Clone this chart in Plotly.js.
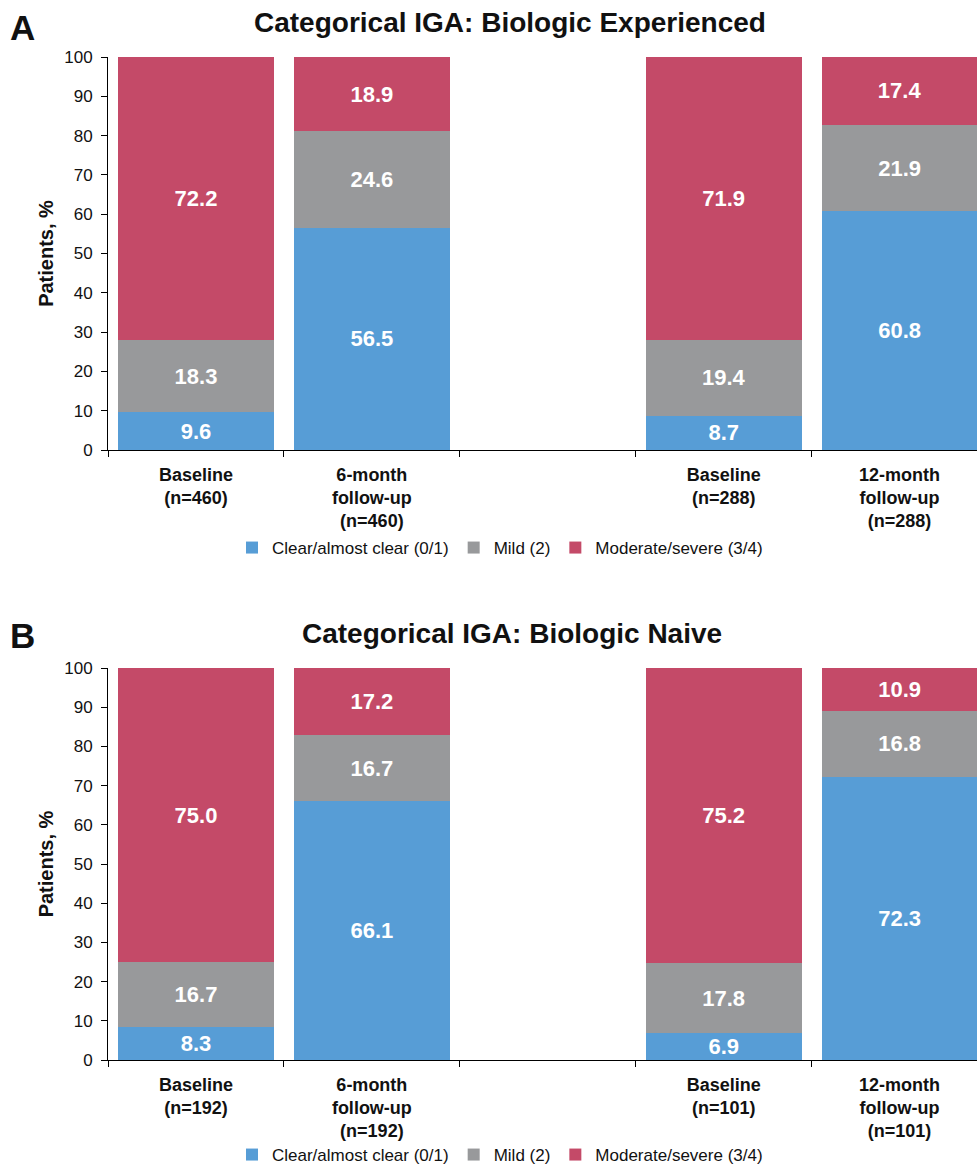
<!DOCTYPE html>
<html><head><meta charset="utf-8">
<script src="https://cdn.plot.ly/plotly-3.0.1.min.js"></script>
<style>html,body{margin:0;padding:0;overflow:hidden;background:#fff}</style>
</head><body><div id="chart" style="width:977px;height:1165px"></div>
<script>
// Panel A: Biologic Experienced
const catsA = ["Baseline<br>(n=460)", "6-month<br>follow-up<br>(n=460)", " ", "Baseline<br>(n=288)", "12-month<br>follow-up<br>(n=288)"];
const clearA = [9.6, 56.5, null, 8.7, 60.8];
const mildA = [18.3, 24.6, null, 19.4, 21.9];
const modA = [72.2, 18.9, null, 71.9, 17.4];
// Panel B: Biologic Naive
const catsB = ["Baseline<br>(n=192)", "6-month<br>follow-up<br>(n=192)", "  ", "Baseline<br>(n=101)", "12-month<br>follow-up<br>(n=101)"];
const clearB = [8.3, 66.1, null, 6.9, 72.3];
const mildB = [16.7, 16.7, null, 17.8, 16.8];
const modB = [75.0, 17.2, null, 75.2, 10.9];
const seriesNames = ["Clear/almost clear (0/1)", "Mild (2)", "Moderate/severe (3/4)"];
const colors = ["#579dd6", "#98999b", "#c44a68"];
const yTicks = [0,10,20,30,40,50,60,70,80,90,100];

const FONT = "Arial, 'Liberation Sans', sans-serif";
const W = 977, H = 1165, ML = 108;
const px = v => (v - ML) / (W - ML);   // pixel x -> paper x
const py = v => 1 - v / H;             // pixel y -> paper y

function bar(x, y, i, xa, ya, leg) {
  return {
    type: "bar", x: x, y: y, name: seriesNames[i], xaxis: xa, yaxis: ya, legend: leg,
    marker: {color: colors[i], line: {width: 0}},
    texttemplate: "%{y:.1f}", textposition: "inside", insidetextanchor: "middle",
    textfont: {family: FONT, size: 22, color: "#ffffff", weight: "bold"},
    constraintext: "none", hoverinfo: "skip"
  };
}
const data = [
  bar(catsA, clearA, 0, "x", "y", "legend"),
  bar(catsA, mildA, 1, "x", "y", "legend"),
  bar(catsA, modA, 2, "x", "y", "legend"),
  bar(catsB, clearB, 0, "x2", "y2", "legend2"),
  bar(catsB, mildB, 1, "x2", "y2", "legend2"),
  bar(catsB, modB, 2, "x2", "y2", "legend2")
];
function xax(cats, anchor) {
  return {
    type: "category", categoryorder: "array", categoryarray: cats,
    range: [-0.5, 4.44], anchor: anchor, domain: [0, 1],
    tickson: "boundaries", ticks: "outside", ticklen: 6, tickcolor: "#000",
    ticklabelstandoff: 8,
    showline: true, linecolor: "#000", linewidth: 1, showgrid: false, zeroline: false,
    tickfont: {family: FONT, size: 18, color: "#111", weight: "bold"},
    automargin: false, fixedrange: true
  };
}
function yax(dom, anchor) {
  return {
    range: [0, 100], domain: dom, anchor: anchor, tickvals: yTicks,
    ticks: "outside", ticklen: 6, tickcolor: "#000", ticklabelstandoff: 5,
    showline: true, linecolor: "#000", linewidth: 1, showgrid: false, zeroline: false,
    tickfont: {family: FONT, size: 17, color: "#111"},
    title: {text: "Patients, %", font: {family: FONT, size: 20, color: "#111", weight: "bold"}, standoff: 5},
    automargin: false, fixedrange: true
  };
}
function leg(yPix) {
  return {orientation: "h", x: px(500), xanchor: "center", y: py(yPix), yanchor: "middle",
    traceorder: "normal", font: {family: FONT, size: 17, color: "#111"},
    itemwidth: 30, tracegroupgap: 0, bgcolor: "rgba(0,0,0,0)"};
}
const titleFont = {family: FONT, size: 28, color: "#111", weight: "bold"};
const letterFont = {family: FONT, size: 35, color: "#111", weight: "bold"};
const layout = {
  width: W, height: H,
  margin: {l: ML, r: 0, t: 0, b: 0, autoexpand: false},
  paper_bgcolor: "#fff", plot_bgcolor: "#fff",
  barmode: "stack", bargap: 0.114,
  showlegend: true,
  xaxis: xax(catsA, "y"),
  yaxis: yax([py(450), py(57)], "x"),
  xaxis2: xax(catsB, "y2"),
  yaxis2: yax([py(1060), py(668)], "x2"),
  legend: leg(548),
  legend2: leg(1155),
  annotations: [
    {text: "Categorical IGA: Biologic Experienced", xref: "paper", yref: "paper", x: px(510), y: py(22), xanchor: "center", yanchor: "middle", showarrow: false, font: titleFont},
    {text: "Categorical IGA: Biologic Naive", xref: "paper", yref: "paper", x: px(512), y: py(633), xanchor: "center", yanchor: "middle", showarrow: false, font: titleFont},
    {text: "A", xref: "paper", yref: "paper", x: px(8), y: py(28), xanchor: "left", yanchor: "middle", showarrow: false, font: letterFont},
    {text: "B", xref: "paper", yref: "paper", x: px(8), y: py(635), xanchor: "left", yanchor: "middle", showarrow: false, font: letterFont}
  ]
};
Plotly.newPlot("chart", data, layout, {displayModeBar: false, staticPlot: true});
</script>
</body></html>
